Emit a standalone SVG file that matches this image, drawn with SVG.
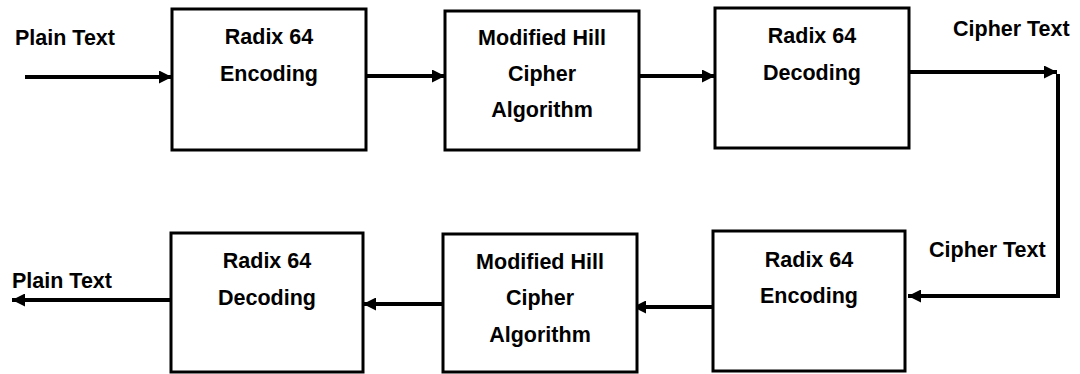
<svg xmlns="http://www.w3.org/2000/svg" width="1080" height="374" viewBox="0 0 1080 374">
<style>
.box{fill:#fff;stroke:#000;stroke-width:3}
.t{font-family:"Liberation Sans",Arial,sans-serif;font-weight:bold;font-size:21.5px;fill:#000}
.c{text-anchor:middle}
.ln{fill:none;stroke:#000;stroke-width:4}
</style>
<defs>
<marker id="ah" markerUnits="userSpaceOnUse" markerWidth="14" markerHeight="13" refX="13" refY="6.5" orient="auto">
<path d="M0,0 L13,6.5 L0,13 z" fill="#000"/>
</marker>
</defs>
<rect width="1080" height="374" fill="#fff"/>
<g id="connectors">
<path class="ln" d="M25,77 H172" marker-end="url(#ah)"/>
<path class="ln" d="M366,76 H445" marker-end="url(#ah)"/>
<path class="ln" d="M639,76 H715" marker-end="url(#ah)"/>
<path class="ln" d="M909,72 H1057" marker-end="url(#ah)"/>
<path class="ln" d="M1058,74 V296 H908" marker-end="url(#ah)"/>
<path class="ln" d="M713,307 H633" marker-end="url(#ah)"/>
<path class="ln" d="M443,304 H363" marker-end="url(#ah)"/>
<path class="ln" d="M171,300 H12" marker-end="url(#ah)"/>
</g>
<g id="label-plain-in"><text class="t" x="15" y="45">Plain Text</text></g>
<g id="label-cipher-out"><text class="t" x="953" y="36">Cipher Text</text></g>
<g id="label-cipher-in"><text class="t" x="929" y="257">Cipher Text</text></g>
<g id="label-plain-out"><text class="t" x="12" y="288">Plain Text</text></g>
<g id="enc1">
<rect class="box" x="172" y="9" width="194" height="141"/>
<text class="t c" x="269" y="44">Radix 64</text>
<text class="t c" x="269" y="81">Encoding</text>
</g>
<g id="hill1">
<rect class="box" x="445" y="11" width="194" height="139"/>
<text class="t c" x="542" y="45">Modified Hill</text>
<text class="t c" x="542" y="81">Cipher</text>
<text class="t c" x="542" y="117">Algorithm</text>
</g>
<g id="dec1">
<rect class="box" x="715" y="8" width="194" height="140"/>
<text class="t c" x="812" y="43">Radix 64</text>
<text class="t c" x="812" y="80">Decoding</text>
</g>
<g id="enc2">
<rect class="box" x="713" y="231" width="192" height="140"/>
<text class="t c" x="809" y="267">Radix 64</text>
<text class="t c" x="809" y="303">Encoding</text>
</g>
<g id="hill2">
<rect class="box" x="443" y="234" width="194" height="138"/>
<text class="t c" x="540" y="269">Modified Hill</text>
<text class="t c" x="540" y="305">Cipher</text>
<text class="t c" x="540" y="342">Algorithm</text>
</g>
<g id="dec2">
<rect class="box" x="171" y="233" width="192" height="139"/>
<text class="t c" x="267" y="268">Radix 64</text>
<text class="t c" x="267" y="305">Decoding</text>
</g>
</svg>
